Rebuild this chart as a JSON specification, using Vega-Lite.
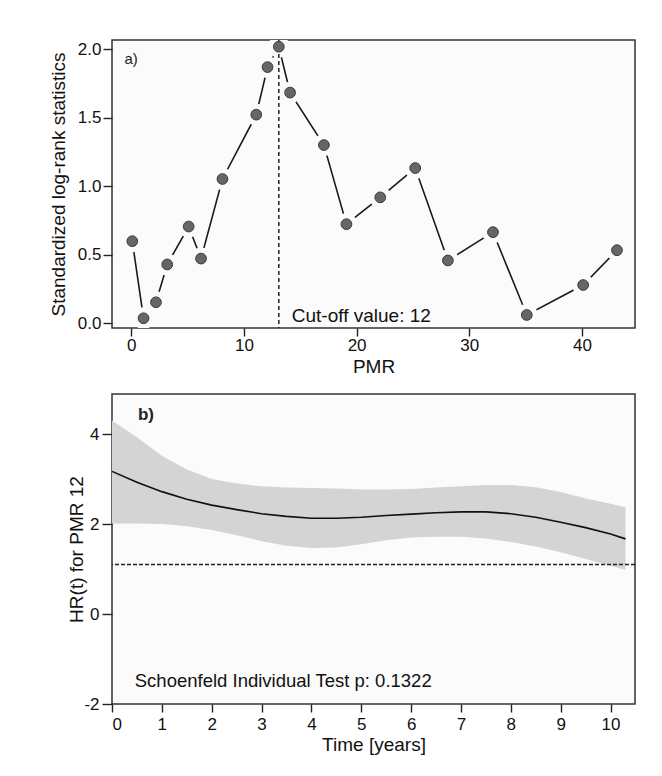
{
  "$schema": "https://vega.github.io/schema/vega-lite/v6.json",
  "background": "white",
  "padding": {"left": 48, "top": 38, "right": 5, "bottom": 0},
  "autosize": {"type": "pad"},
  "spacing": 16,
  "config": {
    "font": "Liberation Sans",
    "view": {"stroke": "#333333", "strokeWidth": 1.5, "fill": "#fbfbfb"},
    "axis": {
      "domain": false,
      "grid": false,
      "tickColor": "#222222",
      "tickWidth": 1.4,
      "labelColor": "#111111",
      "titleColor": "#111111",
      "labelFont": "Liberation Sans",
      "titleFont": "Liberation Sans",
      "titleFontWeight": "normal",
      "labelFontSize": 17,
      "titleFontSize": 19
    }
  },
  "datasets": {
    "pmr": [
      {"pmr": 0.1, "stat": 0.60},
      {"pmr": 1.1, "stat": 0.037},
      {"pmr": 2.2, "stat": 0.154},
      {"pmr": 3.2, "stat": 0.43},
      {"pmr": 5.1, "stat": 0.707},
      {"pmr": 6.2, "stat": 0.473},
      {"pmr": 8.1, "stat": 1.054},
      {"pmr": 11.1, "stat": 1.524},
      {"pmr": 12.1, "stat": 1.871},
      {"pmr": 13.1, "stat": 2.02},
      {"pmr": 14.1, "stat": 1.685},
      {"pmr": 17.1, "stat": 1.302},
      {"pmr": 19.1, "stat": 0.724},
      {"pmr": 22.1, "stat": 0.92},
      {"pmr": 25.2, "stat": 1.134},
      {"pmr": 28.1, "stat": 0.459},
      {"pmr": 32.1, "stat": 0.666},
      {"pmr": 35.1, "stat": 0.061},
      {"pmr": 40.1, "stat": 0.28},
      {"pmr": 43.1, "stat": 0.534}
    ],
    "hr": [
      {"t": 0, "hr": 3.17, "lo": 2.01, "hi": 4.30},
      {"t": 0.5, "hr": 2.93, "lo": 2.01, "hi": 3.93},
      {"t": 1, "hr": 2.72, "lo": 2.00, "hi": 3.52},
      {"t": 1.5, "hr": 2.55, "lo": 1.95, "hi": 3.21},
      {"t": 2, "hr": 2.42, "lo": 1.87, "hi": 3.00},
      {"t": 2.5, "hr": 2.32, "lo": 1.75, "hi": 2.90},
      {"t": 3, "hr": 2.23, "lo": 1.62, "hi": 2.84},
      {"t": 3.5, "hr": 2.17, "lo": 1.52, "hi": 2.81},
      {"t": 4, "hr": 2.13, "lo": 1.47, "hi": 2.80},
      {"t": 4.5, "hr": 2.13, "lo": 1.48, "hi": 2.79},
      {"t": 5, "hr": 2.15, "lo": 1.55, "hi": 2.77},
      {"t": 5.5, "hr": 2.19, "lo": 1.64, "hi": 2.77},
      {"t": 6, "hr": 2.22, "lo": 1.70, "hi": 2.78},
      {"t": 6.5, "hr": 2.25, "lo": 1.72, "hi": 2.81},
      {"t": 7, "hr": 2.27, "lo": 1.72, "hi": 2.84},
      {"t": 7.5, "hr": 2.27, "lo": 1.68, "hi": 2.87},
      {"t": 8, "hr": 2.23, "lo": 1.60, "hi": 2.87},
      {"t": 8.5, "hr": 2.15, "lo": 1.50, "hi": 2.82},
      {"t": 9, "hr": 2.04, "lo": 1.37, "hi": 2.71},
      {"t": 9.5, "hr": 1.92, "lo": 1.22, "hi": 2.57},
      {"t": 10, "hr": 1.78, "lo": 1.07, "hi": 2.45},
      {"t": 10.3, "hr": 1.67, "lo": 0.98, "hi": 2.37}
    ]
  },
  "vconcat": [
    {
      "width": 523,
      "height": 288,
      "layer": [
        {
          "data": {"name": "pmr"},
          "mark": {"type": "line", "color": "#1a1a1a", "strokeWidth": 1.6},
          "encoding": {
            "x": {
              "field": "pmr",
              "type": "quantitative",
              "scale": {"domain": [-1.7, 44.7], "nice": false, "zero": false},
              "axis": {
                "values": [0, 10, 20, 30, 40],
                "tickSize": 8,
                "labelPadding": 1,
                "title": "PMR",
                "titlePadding": 4
              }
            },
            "y": {
              "field": "stat",
              "type": "quantitative",
              "scale": {"domain": [-0.034, 2.069], "nice": false, "zero": false},
              "axis": {
                "values": [0, 0.5, 1, 1.5, 2],
                "format": ".1f",
                "tickSize": 9,
                "labelPadding": 2,
                "title": "Standardized log-rank statistics",
                "titlePadding": 9
              }
            }
          }
        },
        {
          "data": {"name": "pmr"},
          "mark": {"type": "point", "filled": true, "shape": "circle", "size": 480, "color": "#fbfbfb", "opacity": 1, "clip": true},
          "encoding": {
            "x": {"field": "pmr", "type": "quantitative"},
            "y": {"field": "stat", "type": "quantitative"}
          }
        },
        {
          "data": {"values": [{"cutoff": 13.1}]},
          "mark": {"type": "rule", "color": "#222222", "strokeWidth": 1.5, "strokeDash": [4, 3]},
          "encoding": {"x": {"field": "cutoff", "type": "quantitative"}}
        },
        {
          "data": {"name": "pmr"},
          "mark": {"type": "point", "filled": true, "shape": "circle", "size": 115, "fill": "#666666", "stroke": "#3a3a3a", "strokeWidth": 1, "opacity": 1},
          "encoding": {
            "x": {"field": "pmr", "type": "quantitative"},
            "y": {"field": "stat", "type": "quantitative"}
          }
        },
        {
          "data": {"values": [{"label": "a)", "px": 0, "py": 1.93}]},
          "mark": {"type": "text", "fontSize": 15, "color": "#222222", "align": "center", "baseline": "middle"},
          "encoding": {
            "x": {"field": "px", "type": "quantitative"},
            "y": {"field": "py", "type": "quantitative"},
            "text": {"field": "label"}
          }
        },
        {
          "data": {"values": [{"label": "Cut-off value: 12", "px": 14.25, "py": 0.007}]},
          "mark": {"type": "text", "fontSize": 19, "color": "#111111", "align": "left", "baseline": "alphabetic"},
          "encoding": {
            "x": {"field": "px", "type": "quantitative"},
            "y": {"field": "py", "type": "quantitative"},
            "text": {"field": "label"}
          }
        }
      ]
    },
    {
      "width": 523,
      "height": 310,
      "layer": [
        {
          "data": {"name": "hr"},
          "mark": {"type": "area", "color": "#d4d4d4", "opacity": 1},
          "encoding": {
            "x": {
              "field": "t",
              "type": "quantitative",
              "scale": {"domain": [0, 10.49], "nice": false, "zero": false},
              "axis": {
                "values": [0, 1, 2, 3, 4, 5, 6, 7, 8, 9, 10],
                "tickSize": 8,
                "labelPadding": 4,
                "title": "Time [years]",
                "titlePadding": 3
              }
            },
            "y": {
              "field": "lo",
              "type": "quantitative",
              "scale": {"domain": [-2, 4.89], "nice": false, "zero": false},
              "axis": {
                "values": [-2, 0, 2, 4],
                "labelExpr": "'' + datum.value",
                "tickSize": 10,
                "labelPadding": 3,
                "title": "HR(t) for PMR 12",
                "titlePadding": -3
              }
            },
            "y2": {"field": "hi"}
          }
        },
        {
          "data": {"name": "hr"},
          "mark": {"type": "line", "color": "#111111", "strokeWidth": 1.6},
          "encoding": {
            "x": {"field": "t", "type": "quantitative"},
            "y": {"field": "hr", "type": "quantitative"}
          }
        },
        {
          "data": {"values": [{"ref": 1.1}]},
          "mark": {"type": "rule", "color": "#222222", "strokeWidth": 1.4, "strokeDash": [4, 2]},
          "encoding": {"y": {"field": "ref", "type": "quantitative"}}
        },
        {
          "data": {"values": [{"label": "b)", "px": 0.68, "py": 4.43}]},
          "mark": {"type": "text", "fontSize": 17, "fontWeight": "bold", "color": "#222222", "align": "center", "baseline": "middle"},
          "encoding": {
            "x": {"field": "px", "type": "quantitative"},
            "y": {"field": "py", "type": "quantitative"},
            "text": {"field": "label"}
          }
        },
        {
          "data": {"values": [{"label": "Schoenfeld Individual Test p: 0.1322", "px": 0.457, "py": -1.615}]},
          "mark": {"type": "text", "fontSize": 18.5, "color": "#111111", "align": "left", "baseline": "alphabetic"},
          "encoding": {
            "x": {"field": "px", "type": "quantitative"},
            "y": {"field": "py", "type": "quantitative"},
            "text": {"field": "label"}
          }
        }
      ]
    }
  ]
}
